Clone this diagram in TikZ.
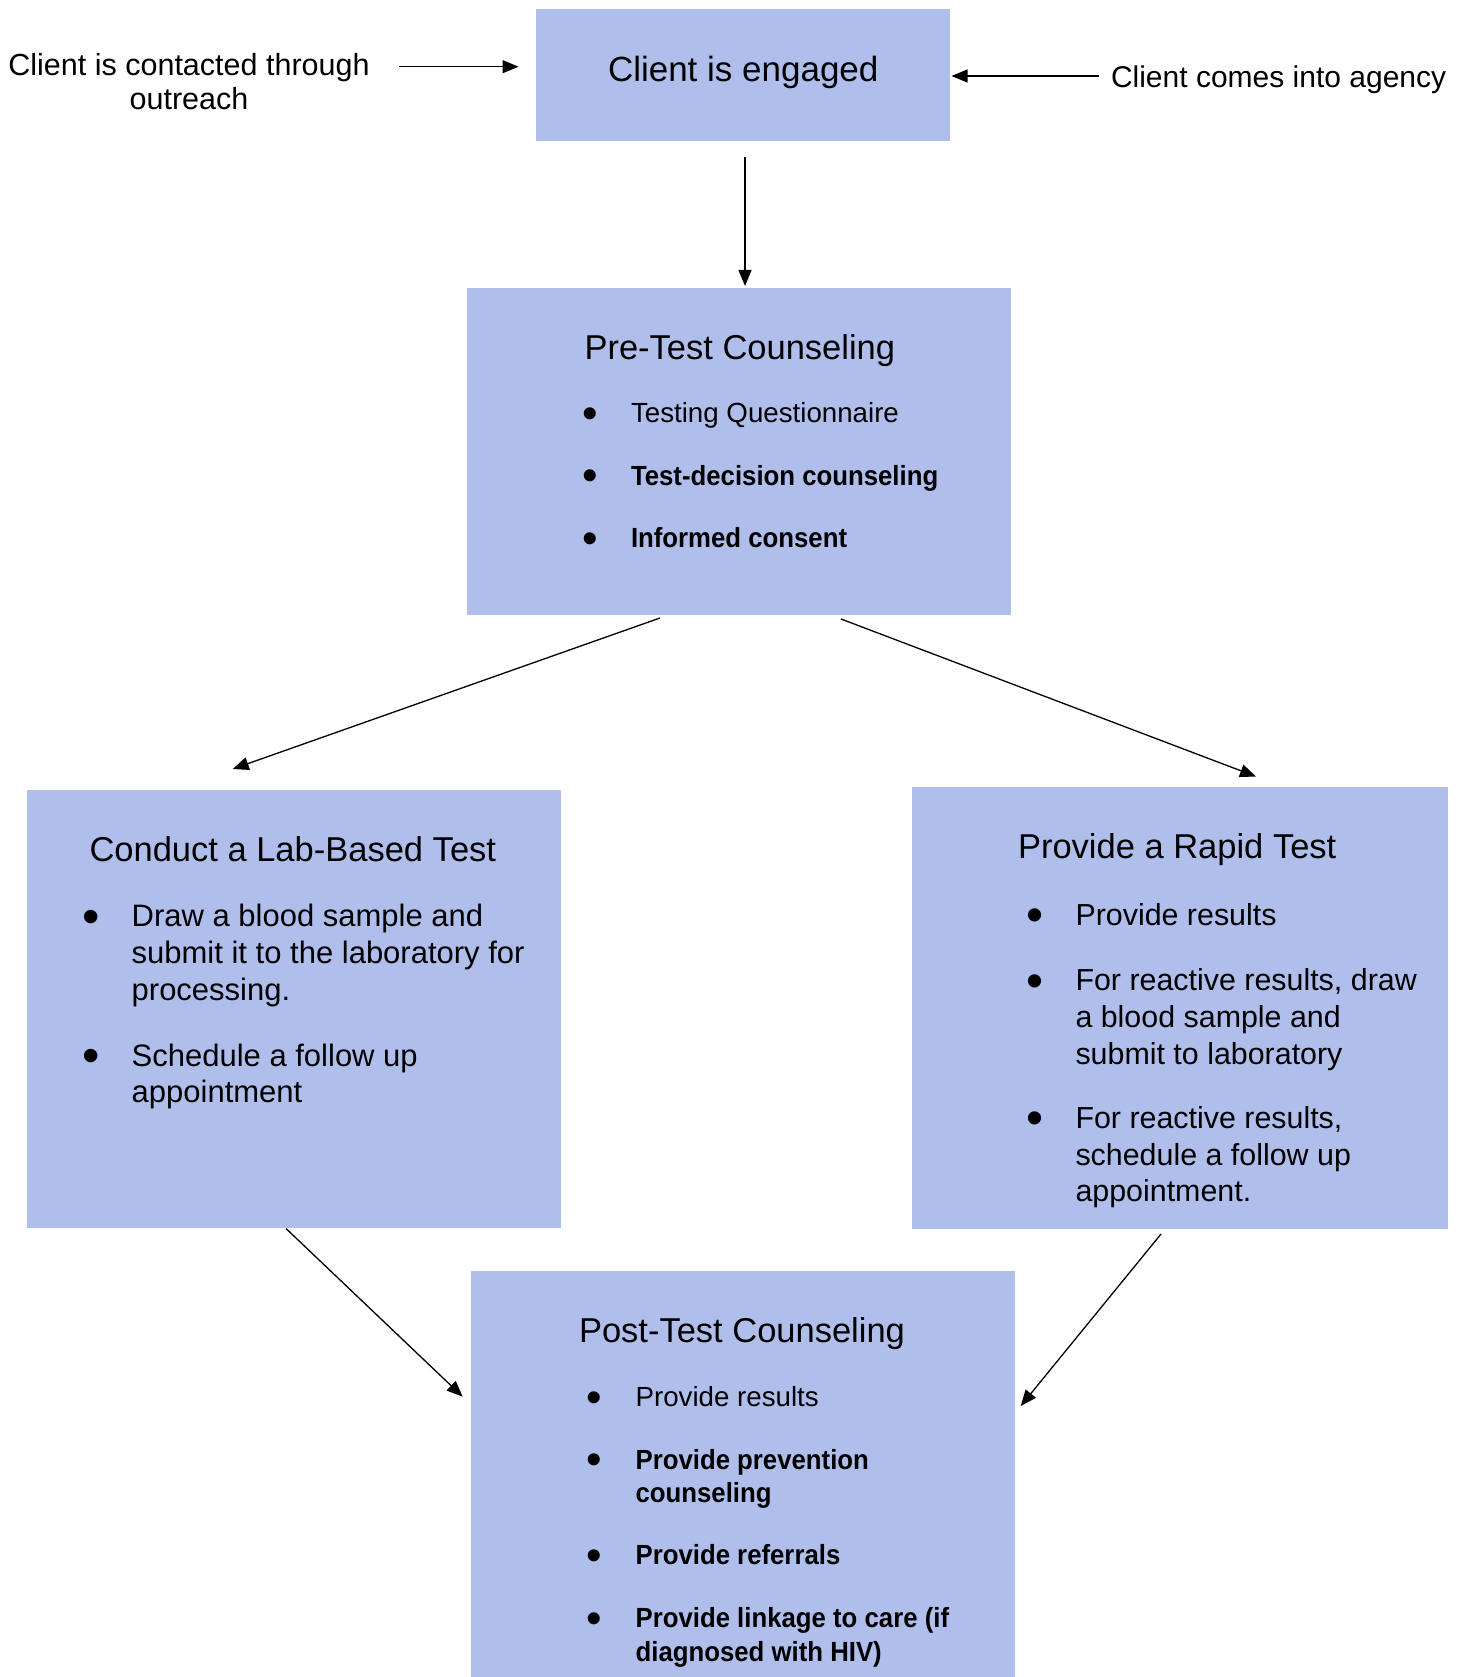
\documentclass[tikz,border=0pt]{standalone}
\usepackage{fontspec}
\setmainfont{Liberation Sans}[BoldFeatures={FakeStretch=0.93}]
\usetikzlibrary{arrows.meta}
\definecolor{boxblue}{RGB}{176,190,236}
\newcommand{\mybullet}{\hspace*{-2pt}\raisebox{-0.21em}{\scalebox{1.6}{\textbullet}}}
\newcommand{\myitem}[2][47pt]{\makebox[#1][l]{\mybullet}\parbox[t]{420pt}{\raggedright #2}}
\begin{document}
\begin{tikzpicture}[x=1pt,y=-1pt,
  box/.style={fill=boxblue, draw=none, inner sep=0, outer sep=0},
  conn/.style={line width=1.3pt, -{Triangle[length=16pt,width=13pt]}},
  txt/.style={anchor=base west, inner sep=0, outer sep=0},
  title/.style={txt, font=\fontsize{35}{40}\selectfont},
  side/.style={txt, font=\fontsize{30.5}{34}\selectfont},
  rside/.style={txt, font=\fontsize{30}{34}\selectfont},
  head/.style={txt, font=\fontsize{34.5}{40}\selectfont},
  smallitem/.style={txt, font=\fontsize{27.7}{33.5}\selectfont},
  bigitem/.style={txt, font=\fontsize{31}{36.7}\selectfont},
  rapiditem/.style={txt, font=\fontsize{30.4}{36.7}\selectfont},
]
\useasboundingbox (0,0) rectangle (1464,1677);

% boxes
\node[box, minimum width=414pt, minimum height=132pt] (engaged) at (742.5,75.5) {};
\node[box, minimum width=544pt, minimum height=327pt] (pre) at (739,451.5) {};
\node[box, minimum width=534pt, minimum height=438pt] (lab) at (294,1008.5) {};
\node[box, minimum width=536pt, minimum height=442pt] (rapid) at (1180,1007.5) {};
\node[box, minimum width=544pt, minimum height=410pt] (post) at (743,1476) {};

% top texts
\node[title] (engagedtxt) at (608,81.7) {Client is engaged};
\node[side, anchor=base] (outreach) at (189,76) {\begin{tabular}[t]{@{}c@{}}Client is contacted through\\ outreach\end{tabular}};
\node[rside] (agency) at (1111,87.3) {Client comes into agency};

% pre-test
\node[head] (prehead) at (584.5,359) {Pre-Test Counseling};
\node[smallitem] (pre1) at (584,422.7) {\myitem{Testing Questionnaire}};
\node[smallitem] (pre2) at (584,485) {\myitem{\textbf{Test-decision counseling}}};
\node[smallitem] (pre3) at (584,547.7) {\myitem{\textbf{Informed consent}}};

% lab
\node[head] (labhead) at (89.5,861) {Conduct a Lab-Based Test};
\node[bigitem] (lab1) at (84.7,926.7) {\myitem{Draw a blood sample and\\ submit it to the laboratory for\\ processing.}};
\node[bigitem] (lab2) at (84.7,1066) {\myitem{Schedule a follow up\\ appointment}};

% rapid
\node[head] (rapidhead) at (1018,858.3) {Provide a Rapid Test};
\node[rapiditem] (rapid1) at (1028.5,925) {\myitem{Provide results}};
\node[rapiditem] (rapid2) at (1028.5,990.7) {\myitem{For reactive results, draw\\ a blood sample and\\ submit to laboratory}};
\node[rapiditem] (rapid3) at (1028.5,1128.3) {\myitem{For reactive results,\\ schedule a follow up\\ appointment.}};

% post
\node[head] (posthead) at (579,1342.3) {Post-Test Counseling};
\node[smallitem] (post1) at (588.6,1406.7) {\myitem{Provide results}};
\node[smallitem] (post2) at (588.6,1469) {\myitem{\textbf{Provide prevention\\ counseling}}};
\node[smallitem] (post3) at (588.6,1564.3) {\myitem{\textbf{Provide referrals}}};
\node[smallitem] (post4) at (588.6,1627.7) {\myitem{\textbf{Provide linkage to care (if\\ diagnosed with HIV)}}};

% connector ends
\coordinate (outS) at (399,66.7);
\coordinate (outE) at (518.5,66.7);
\coordinate (agS) at (1099,76);
\coordinate (agE) at (951.5,76);
\coordinate (engS) at (745,157);
\coordinate (engE) at (745,286);
\coordinate (preL) at (660,618);
\coordinate (labE) at (232.7,769);
\coordinate (preR) at (841,619);
\coordinate (rapE) at (1256,776.5);
\coordinate (labS) at (286,1228.5);
\coordinate (postL) at (462.7,1396.7);
\coordinate (rapS) at (1161,1234);
\coordinate (postR) at (1020.7,1406);

\draw[conn] (outS) -- (outE);
\draw[conn] (agS) -- (agE);
\draw[conn] (engS) -- (engE);
\draw[conn] (preL) -- (labE);
\draw[conn] (preR) -- (rapE);
\draw[conn] (labS) -- (postL);
\draw[conn] (rapS) -- (postR);
\end{tikzpicture}
\end{document}
